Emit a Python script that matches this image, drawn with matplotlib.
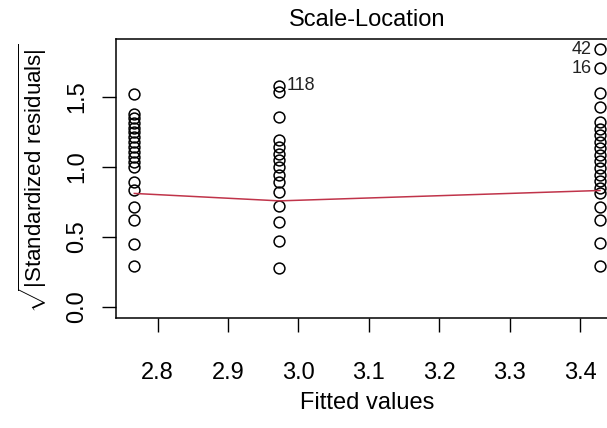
import matplotlib
matplotlib.use('Agg')
import matplotlib.pyplot as plt

plt.rcParams['font.family'] = ['Liberation Sans', 'DejaVu Sans']
plt.rcParams['mathtext.fontset'] = 'custom'
plt.rcParams['mathtext.rm'] = 'Liberation Sans'

# fitted values of the three groups
fit_low = 2.767
fit_mid = 2.973
fit_high = 3.428

# sqrt(|standardized residuals|) per group
res_low = [1.52, 1.375, 1.345, 1.31, 1.278, 1.245, 1.21, 1.175, 1.14, 1.105,
           1.07, 1.035, 0.999, 0.895, 0.831, 0.716, 0.62, 0.447, 0.291]
res_mid = [1.576, 1.534, 1.352, 1.191, 1.144, 1.093, 1.047, 0.996, 0.943,
           0.889, 0.82, 0.718, 0.607, 0.47, 0.281]
res_high = [1.837, 1.704, 1.525, 1.425, 1.318, 1.272, 1.225, 1.178, 1.131,
            1.085, 1.038, 0.991, 0.944, 0.898, 0.851, 0.816, 0.716, 0.622,
            0.459, 0.291]

# smoother (red line)
smooth_x = [fit_low, fit_mid, fit_high]
smooth_y = [0.81, 0.757, 0.831]

# labelled observations
lab_text = ['118', '42', '16']
lab_x = [fit_mid, fit_high, fit_high]
lab_y = [1.576, 1.837, 1.704]

xticks = [2.8, 2.9, 3.0, 3.1, 3.2, 3.3, 3.4]
yticks = [0.0, 0.5, 1.0, 1.5]

fig = plt.figure(figsize=(6.07, 4.28), dpi=100)
ax = fig.add_axes([116 / 607, 110 / 428, 503 / 607, 279 / 428])

for fx, vals in [(fit_low, res_low), (fit_mid, res_mid), (fit_high, res_high)]:
    ax.plot([fx] * len(vals), vals, 'o', mfc='none', mec='black',
            ms=7.8, mew=1.1, clip_on=False)

ax.plot(smooth_x, smooth_y, color='#c0344a', lw=1.1)

# R-style point labels
ax.annotate(lab_text[0], (lab_x[0], lab_y[0]), xytext=(5, 0),
            textcoords='offset points', ha='left', va='center',
            fontsize=13, color='#222222')
for t, x, y in zip(lab_text[1:], lab_x[1:], lab_y[1:]):
    ax.annotate(t, (x, y), xytext=(-6, 0), textcoords='offset points',
                ha='right', va='center', fontsize=13, color='#222222')

ax.set_xlim(2.741, 3.455)
ax.set_ylim(-0.078, 1.911)
ax.set_xticks(xticks)
ax.set_xticklabels([f'{v:.1f}' for v in xticks])
ax.set_yticks(yticks)
ax.set_yticklabels([f'{v:.1f}' for v in yticks], rotation=90, va='center')
ax.tick_params(axis='x', length=10, width=1, pad=22, labelsize=17)
ax.tick_params(axis='y', length=10, width=1, pad=10, labelsize=17)
for s in ax.spines.values():
    s.set_linewidth(1.1)

cx = (116 + 619) / 2 / 607
fig.text(cx, 1 - 20 / 428, 'Scale-Location', ha='center', va='center',
         fontsize=17)
fig.text(cx, 1 - 403 / 428, 'Fitted values', ha='center', va='center',
         fontsize=17)
fig.text(33 / 607, 1 - 178 / 428,
         r'$\sqrt{|\mathrm{Standardized\ residuals}|}$',
         rotation=90, ha='center', va='center', fontsize=16)

fig.savefig('out.png', dpi=100)
